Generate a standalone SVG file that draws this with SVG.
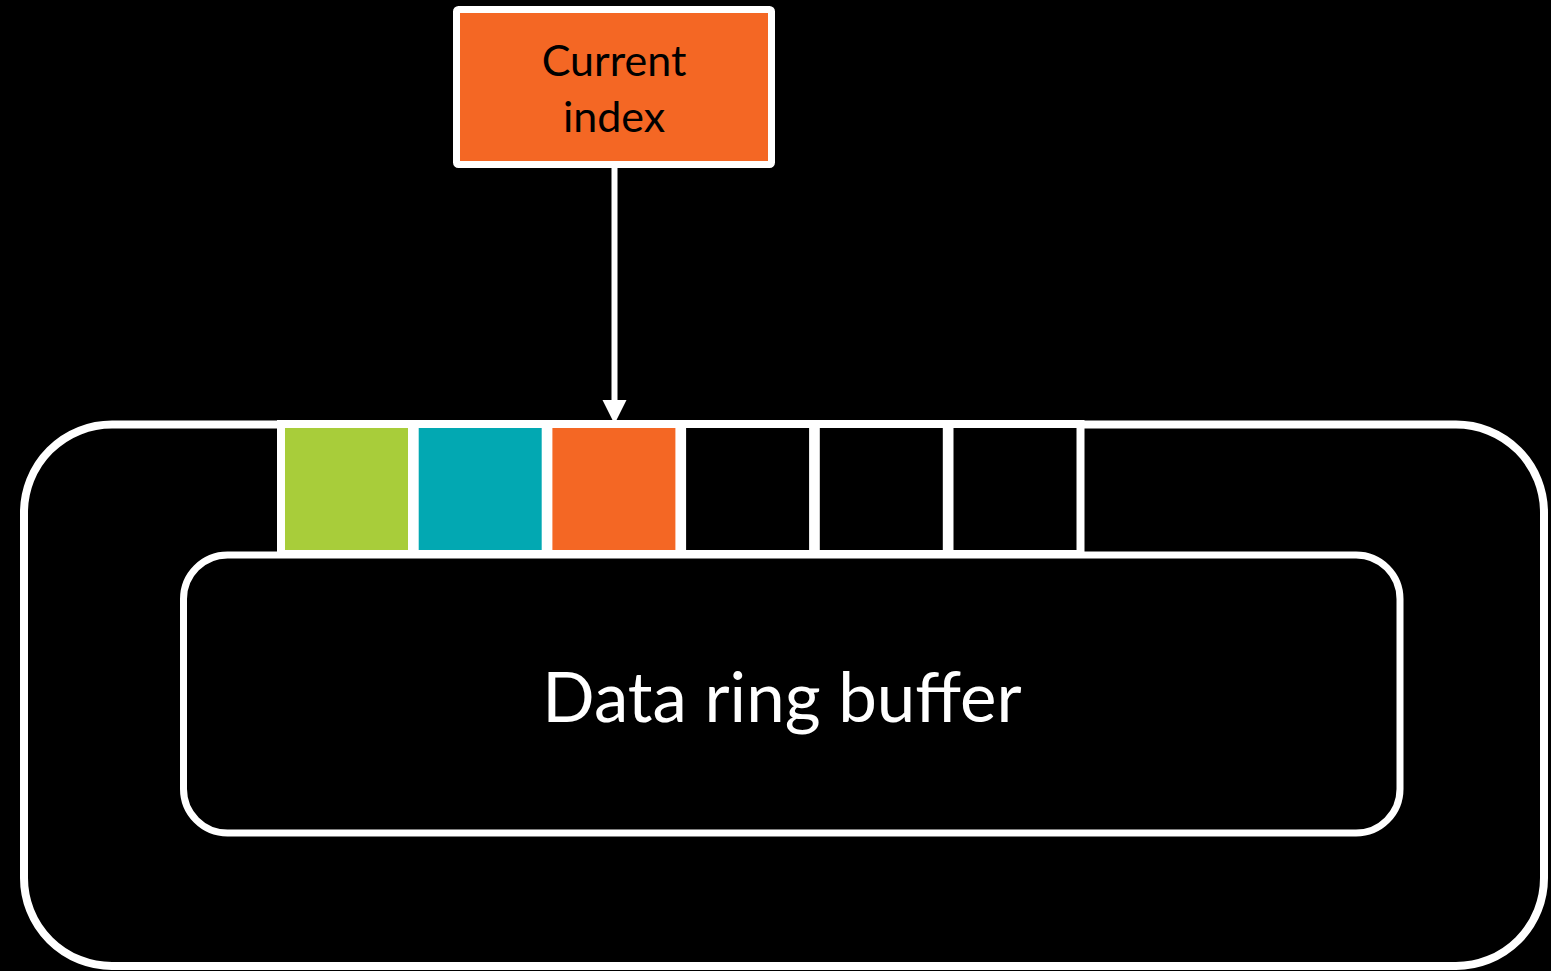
<svg xmlns="http://www.w3.org/2000/svg" width="1551" height="971" viewBox="0 0 1551 971">
  <style>
    .frame { fill: none; stroke: #ffffff; }
    .cell { stroke: #ffffff; stroke-width: 8; }
    .label { font-family: Lato, "Open Sans", "Liberation Sans", sans-serif; text-anchor: middle; }
  </style>
  <rect width="1551" height="971" fill="#000000"/>

  <!-- outer ring outline -->
  <g id="ring-buffer">
    <rect class="frame" x="24" y="424.5" width="1520" height="541.5" rx="88" ry="88" stroke-width="8"/>
  </g>

  <!-- inner buffer body -->
  <g id="data-ring-buffer">
    <rect x="183.5" y="555" width="1216.5" height="278" rx="44" ry="44" fill="#000000" stroke="#ffffff" stroke-width="7"/>
    <text class="label" x="782" y="722" font-size="69" fill="#ffffff">Data ring buffer</text>
  </g>

  <!-- slots along the top edge -->
  <g id="cells">
    <rect id="cell-0" class="cell" x="281" y="424" width="131" height="130" fill="#a8cd3a"/>
    <rect id="cell-1" class="cell" x="414.7" y="424" width="131" height="130" fill="#02a8b2"/>
    <rect id="cell-2" class="cell" x="548.4" y="424" width="131" height="130" fill="#f46724"/>
    <rect id="cell-3" class="cell" x="682.1" y="424" width="131" height="130" fill="#000000"/>
    <rect id="cell-4" class="cell" x="815.8" y="424" width="131" height="130" fill="#000000"/>
    <rect id="cell-5" class="cell" x="949.5" y="424" width="131" height="130" fill="#000000"/>
  </g>

  <g id="current-index">
    <rect x="456.5" y="9.5" width="315" height="155" rx="2" ry="2" fill="#f46724" stroke="#ffffff" stroke-width="7"/>
    <text class="label" x="614" y="76" font-size="43" fill="#000000">Current</text>
    <text class="label" x="614" y="132" font-size="43" fill="#000000">index</text>
  </g>

  <g id="connectors">
    <line x1="614.5" y1="168" x2="614.5" y2="402" stroke="#ffffff" stroke-width="6"/>
    <path d="M602.5,400 L626.5,400 L614.5,424 Z" fill="#ffffff"/>
  </g>
</svg>
